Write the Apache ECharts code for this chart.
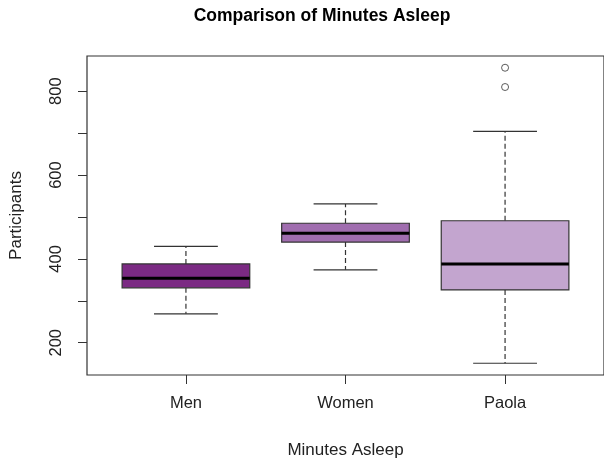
<!DOCTYPE html>
<html>
<head>
<meta charset="utf-8">
<script src="https://cdn.jsdelivr.net/npm/echarts@6/dist/echarts.min.js"></script>
<style>
html,body{margin:0;padding:0;background:#fff;}
#chart{width:604px;height:464px;}
</style>
</head>
<body>
<div id="chart"></div>
<script>
// ---- data ----
const categories = ['Men', 'Women', 'Paola'];
const whiskerLow = [269, 374, 151];
const quartile1 = [331, 440, 326];
const medians = [354, 461, 388];
const quartile3 = [388, 485, 491];
const whiskerHigh = [430, 531, 704];
const outlierGroup = ['Paola', 'Paola'];
const outlierValues = [856, 810];
const yTicks = [200, 300, 400, 500, 600, 700, 800];
const yLabels = [200, 400, 600, 800];

// ---- styles ----
const fills = ['#7b2a83', '#a06daf', '#c3a5cf'];
const font = 'Liberation Sans, Arial, sans-serif';
const ink = '#333';

const boxData = categories.map((c, i) => [i + 1, whiskerLow[i], quartile1[i], medians[i], quartile3[i], whiskerHigh[i]]);
const outlierData = outlierValues.map((v, i) => [categories.indexOf(outlierGroup[i]) + 1, v]);

const chart = echarts.init(document.getElementById('chart'), null, {renderer: 'canvas'});
chart.setOption({
  animation: false,
  backgroundColor: '#fff',
  title: {
    text: 'Comparison of Minutes Asleep',
    left: 317, top: 2, textAlign: 'center',
    textStyle: {fontFamily: font, fontSize: 17.5, fontWeight: 'bold', color: '#000'}
  },
  grid: {
    left: 87, top: 56, width: 523, height: 319,
    show: true, borderColor: ink, borderWidth: 1.2, backgroundColor: 'transparent'
  },
  xAxis: {
    type: 'value', min: 0.38, max: 3.62,
    name: 'Minutes Asleep', nameLocation: 'middle', nameGap: 67,
    nameTextStyle: {fontFamily: font, fontSize: 17, color: '#222'},
    axisLine: {show: false},
    splitLine: {show: false},
    axisTick: {show: true, inside: false, length: 9, customValues: [1, 2, 3], lineStyle: {color: ink}},
    axisLabel: {
      customValues: [1, 2, 3], margin: 20,
      fontFamily: font, fontSize: 16.5, color: '#222',
      formatter: v => categories[Math.round(v) - 1] || ''
    }
  },
  yAxis: {
    type: 'value', min: 123, max: 884,
    name: 'Participants', nameLocation: 'middle', nameGap: 62,
    nameTextStyle: {fontFamily: font, fontSize: 17, color: '#222'},
    axisLine: {show: false},
    splitLine: {show: false},
    axisTick: {show: true, inside: false, length: 9, customValues: yTicks, lineStyle: {color: ink}},
    axisLabel: {
      customValues: yLabels, rotate: 90, margin: 22,
      fontFamily: font, fontSize: 16.5, color: '#222'
    }
  },
  series: [
    {
      type: 'custom',
      data: boxData,
      encode: {x: 0, y: [1, 2, 3, 4, 5]},
      renderItem: function (params, api) {
        const x = api.value(0);
        const lo = api.coord([x, api.value(1)]);
        const q1 = api.coord([x, api.value(2)]);
        const md = api.coord([x, api.value(3)]);
        const q3 = api.coord([x, api.value(4)]);
        const hi = api.coord([x, api.value(5)]);
        const w = api.size([0.8, 0])[0];
        const cx = lo[0];
        const half = w / 2, cap = w / 4;
        const dashed = {stroke: ink, lineWidth: 1.2, lineDash: [5, 3]};
        const solid = {stroke: ink, lineWidth: 1.2};
        return {
          type: 'group',
          children: [
            {type: 'line', shape: {x1: cx, y1: q3[1], x2: cx, y2: hi[1]}, style: dashed},
            {type: 'line', shape: {x1: cx, y1: q1[1], x2: cx, y2: lo[1]}, style: dashed},
            {type: 'line', shape: {x1: cx - cap, y1: hi[1], x2: cx + cap, y2: hi[1]}, style: solid},
            {type: 'line', shape: {x1: cx - cap, y1: lo[1], x2: cx + cap, y2: lo[1]}, style: solid},
            {type: 'rect', shape: {x: cx - half, y: q3[1], width: w, height: q1[1] - q3[1]},
              style: {fill: fills[params.dataIndex], stroke: ink, lineWidth: 1.2}},
            {type: 'line', shape: {x1: cx - half, y1: md[1], x2: cx + half, y2: md[1]},
              style: {stroke: '#000', lineWidth: 3}}
          ]
        };
      }
    },
    {
      type: 'scatter',
      data: outlierData,
      symbol: 'circle',
      symbolSize: 7,
      itemStyle: {color: '#fff', borderColor: ink, borderWidth: 1}
    }
  ]
});
</script>
</body>
</html>
